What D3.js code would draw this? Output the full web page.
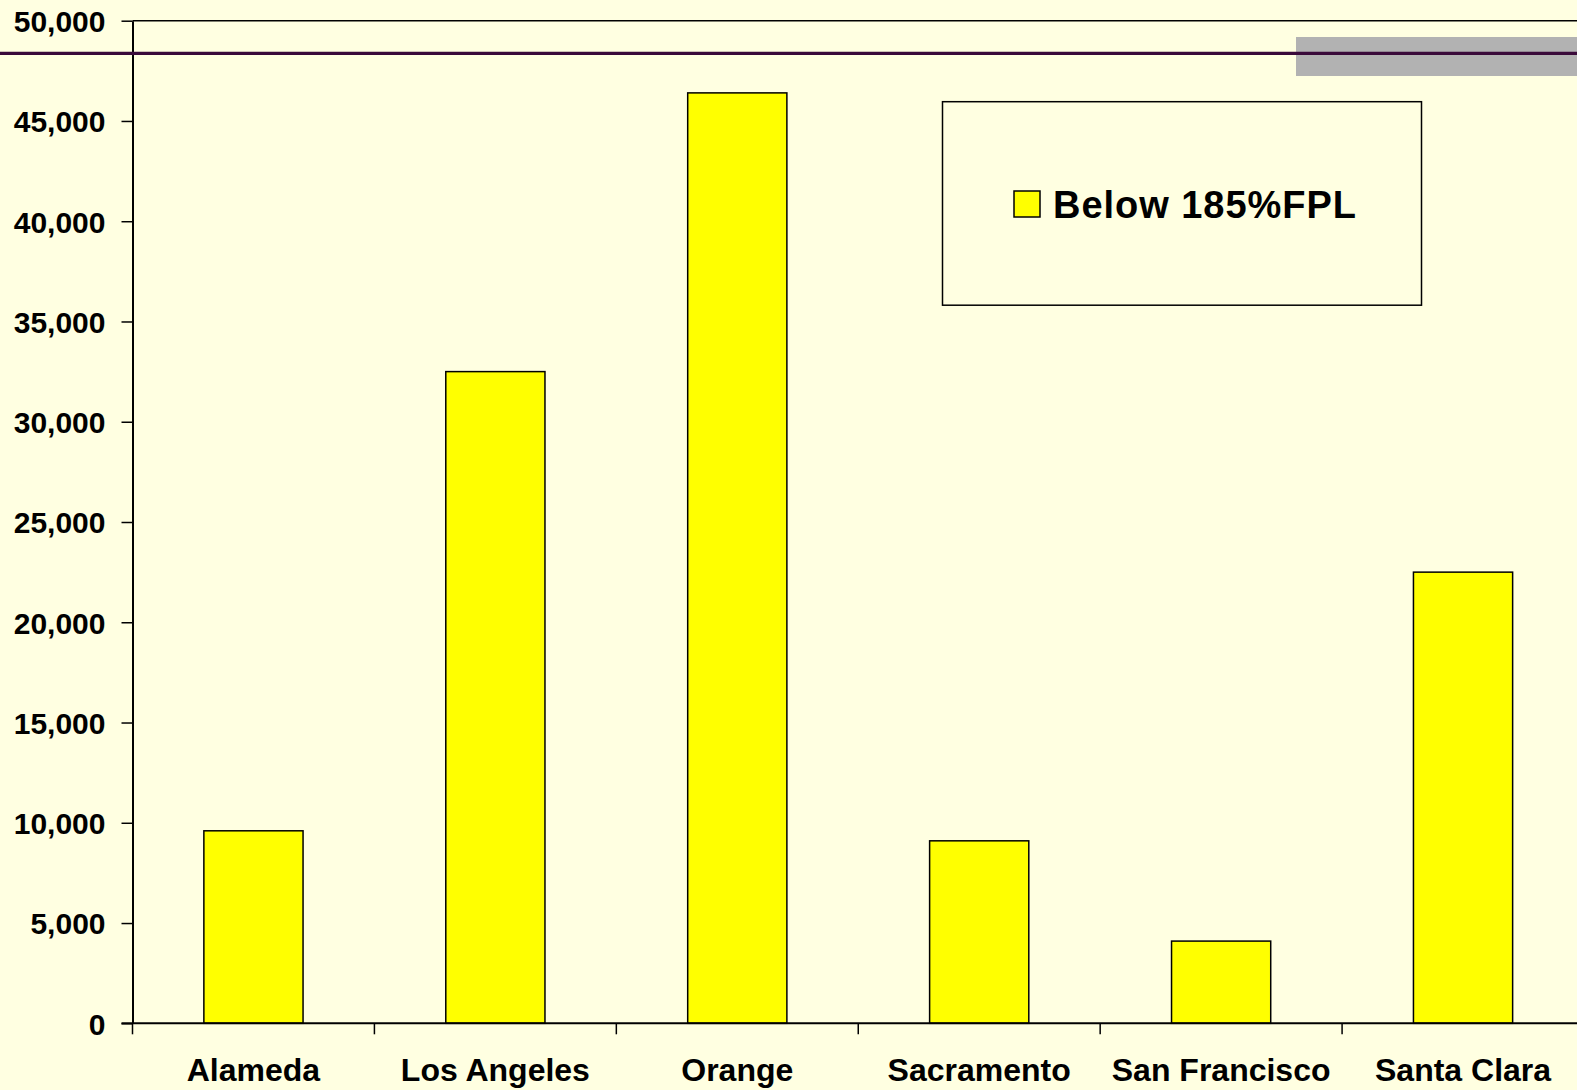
<!DOCTYPE html>
<html><head><meta charset="utf-8">
<script src="https://cdn.jsdelivr.net/npm/d3@7"></script>
<style>
html,body{margin:0;padding:0;background:#FFFFE1;overflow:hidden;}
svg{display:block;}
text{font-family:"Liberation Sans",Arial,sans-serif;font-weight:bold;fill:#000;}
</style></head>
<body>
<svg id="chart" width="1577" height="1090"></svg>
<script>
const categories = ["Alameda","Los Angeles","Orange","Sacramento","San Francisco","Santa Clara"];
const values = [9600, 32500, 46400, 9100, 4100, 22500];
const yTicks = [0,5000,10000,15000,20000,25000,30000,35000,40000,45000,50000];
const seriesName = "Below 185%FPL";

const W = 1577, H = 1090;
const plotL = 132.5, plotR = 1584, plotT = 20.7, plotB = 1023.3;
const svg = d3.select("#chart");
svg.append("rect").attr("width",W).attr("height",H).attr("fill","#FFFFE1");

const x = d3.scaleBand().domain(categories).range([plotL, plotR]).paddingInner(0.59).paddingOuter(0.295);
const y = d3.scaleLinear().domain([0,50000]).range([plotB, plotT]);

// plot top border
svg.append("line").attr("x1",plotL).attr("x2",W+5).attr("y1",y(50000)).attr("y2",y(50000))
  .attr("stroke","#000").attr("stroke-width",1.5);

// bars
svg.append("g").selectAll("rect").data(values).join("rect")
  .attr("x",(d,i)=>x(categories[i]))
  .attr("y",d=>y(d))
  .attr("width",x.bandwidth())
  .attr("height",d=>y(0)-y(d))
  .attr("fill","#FFFF00").attr("stroke","#000").attr("stroke-width",1.5);

// y axis
const yAxis = d3.axisLeft(y).tickValues(yTicks).tickSize(11).tickSizeOuter(0).tickPadding(16)
  .tickFormat(d3.format(","));
const gy = svg.append("g").attr("transform",`translate(${plotL},0)`).call(yAxis);
gy.select(".domain").attr("stroke","#000").attr("stroke-width",2);
gy.selectAll(".tick line").attr("stroke","#000").attr("stroke-width",1.5);
gy.selectAll(".tick text").attr("font-size",30).attr("font-family","'Liberation Sans',Arial,sans-serif").attr("font-weight","bold").attr("dy","0.36em");

// x axis
const gx = svg.append("g").attr("transform",`translate(0,${plotB})`);
gx.append("line").attr("x1",plotL-11).attr("x2",W+5).attr("y1",0).attr("y2",0).attr("stroke","#000").attr("stroke-width",2);
const bounds = d3.range(categories.length+1).map(i=>x.range()[0]+i*x.step());
gx.selectAll("line.tk").data(bounds).join("line").attr("class","tk")
  .attr("x1",d=>d).attr("x2",d=>d).attr("y1",0).attr("y2",11)
  .attr("stroke","#000").attr("stroke-width",1.5);
gx.selectAll("text").data(categories).join("text")
  .attr("x",d=>x(d)+x.bandwidth()/2).attr("y",58)
  .attr("text-anchor","middle").attr("font-size",32).text(d=>d);

// gray rect and purple line
svg.append("rect").attr("x",1296).attr("y",37).attr("width",W-1296+5).attr("height",39).attr("fill","#B2B2B2");
svg.append("line").attr("x1",0).attr("x2",W).attr("y1",53.3).attr("y2",53.3).attr("stroke","#3A0A3A").attr("stroke-width",3.3);

// legend
const lg = svg.append("g");
lg.append("rect").attr("x",942.5).attr("y",101.7).attr("width",479).attr("height",203.5)
  .attr("fill","none").attr("stroke","#000").attr("stroke-width",1.5);
lg.append("rect").attr("x",1014).attr("y",191).attr("width",26).attr("height",26)
  .attr("fill","#FFFF00").attr("stroke","#000").attr("stroke-width",1.5);
lg.append("text").attr("x",1053).attr("y",218.3).attr("font-size",38)
  .attr("textLength",303).attr("lengthAdjust","spacing").text(seriesName);
</script>
</body></html>
